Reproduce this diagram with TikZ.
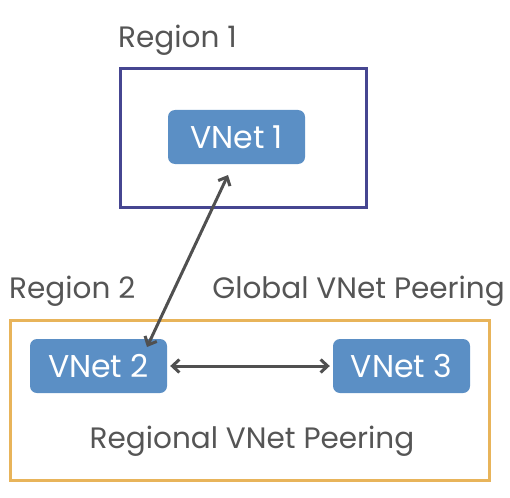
\documentclass[tikz,border=0pt]{standalone}
\usepackage{fontspec}
\setmainfont{Poppins}
\usetikzlibrary{arrows.meta}
\definecolor{netblue}{RGB}{91,143,197}
\definecolor{reg1}{RGB}{70,70,145}
\definecolor{reg2}{RGB}{232,180,90}
\definecolor{txtgray}{RGB}{85,85,85}
\definecolor{arrgray}{RGB}{80,80,80}
\tikzset{
  vnet/.style={fill=netblue, rounded corners=7pt, text=white, font=\fontsize{31.5}{34}\selectfont, minimum width=137pt, minimum height=54pt, inner sep=0pt},
  lbl/.style={text=txtgray, font=\fontsize{29.5}{32}\selectfont, inner sep=0pt},
  peer/.style={draw=arrgray, line width=3pt, {Straight Barb[length=7pt,width=13pt]}-{Straight Barb[length=7pt,width=13pt]}},
}
\begin{document}
\begin{tikzpicture}[x=1pt,y=-1pt]
\useasboundingbox (0,0) rectangle (510,497);
\draw[reg1, line width=3pt] (120,69) rectangle (366,207);
\draw[reg2, line width=3pt] (10,320) rectangle (489,480);
\node[vnet] (v1) at (236.5,137) {VNet 1};
\node[vnet] (v2) at (98.5,366) {VNet 2};
\node[vnet] (v3) at (401.5,366) {VNet 3};
\node[lbl, anchor=base west] (r1) at (118,48) {Region 1};
\node[lbl, anchor=base west] (r2) at (9,298) {Region 2};
\node[lbl, anchor=base east] (gl) at (505,298) {Global VNet Peering};
\node[lbl, anchor=base] (rg) at (252,448) {Regional VNet Peering};
\coordinate (a1) at (228,175);
\coordinate (a2) at (147,347);
\draw[peer] (a2) -- (a1);
\draw[peer, shorten <=3pt, shorten >=3pt] (v2) -- (v3);
\end{tikzpicture}
\end{document}
